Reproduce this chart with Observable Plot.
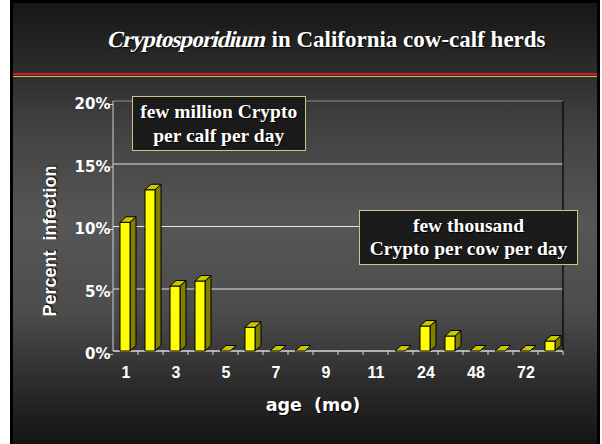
<!DOCTYPE html>
<html>
<head>
<meta charset="utf-8">
<script src="https://cdn.jsdelivr.net/npm/d3@7"></script>
<script src="https://cdn.jsdelivr.net/npm/@observablehq/plot@0.6"></script>
<style>
  html, body { margin: 0; padding: 0; background: #ffffff; }
  #page { position: relative; width: 602px; height: 444px; overflow: hidden; }
  #slide {
    position: absolute; left: 10px; top: 0; width: 590px; height: 444px; box-sizing: border-box;
    border-left: 3px solid #000; border-top: 3px solid #000; border-right: 3px solid #000;
    background: linear-gradient(to bottom, #161616 0%, #2c2c2c 15%, #444444 30%, #565656 50%, #4c4c4c 70%, #2e2e2e 85%, #141414 100%);
  }
  #title {
    position: absolute; left: 0; top: 28px; width: 602px; padding-left: 108px; box-sizing: border-box;
    font-family: "Liberation Serif", "Times New Roman", serif; font-size: 23px; line-height: 1; color: #fff;
    text-shadow: 1px 1px 1px #000; white-space: nowrap;
  }
  #title .it { display: inline-block; font-family: "Liberation Serif", "DejaVu Serif", serif; font-weight: bold;
    font-style: normal; letter-spacing: -0.9px; transform: skewX(-14deg); }
  #title b { font-weight: bold; font-family: "Liberation Serif", "Times New Roman", serif; }
  .rule { position: absolute; left: 13px; width: 584px; }
  #red { top: 73px; height: 2px; background: #e0102c; }
  #yel { top: 76px; height: 1px; background: #c8c83c; }
  #chart { position: absolute; left: 0; top: 0; }
  .box {
    position: absolute; box-sizing: border-box; background: #1b1b1b; border: 1.5px solid #c8c882;
    color: #fff; font-family: "Liberation Serif", "Times New Roman", serif; font-weight: bold; font-size: 19.5px;
    text-align: center; text-shadow: 1px 1px 1px #000; white-space: nowrap;
  }
  #box1 { left: 131.7px; top: 96px; width: 174px; height: 55px; line-height: 24px; padding-top: 3.2px; }
  #box2 { left: 359.3px; top: 210px; width: 218.4px; height: 55px; line-height: 23px; padding-top: 2.7px; }
  .atitle { position: absolute; color: #fff; font-weight: bold; white-space: pre; text-shadow: 1px 1px 1px #000; }
  #ytitle { left: 49.7px; top: 240.8px; transform: translate(-50%, -50%) rotate(-90deg);
    font-family: "Liberation Sans", Arial, sans-serif; font-size: 18px; line-height: 1; }
  #xtitle { left: 313px; top: 406px; transform: translate(-50%, -50%);
    font-family: "DejaVu Sans", sans-serif; font-size: 17.5px; line-height: 1; }
</style>
</head>
<body>
<div id="page">
  <div id="slide"></div>
  <div id="title"><span class="it">Cryptosporidium</span> <b>in California cow-calf herds</b></div>
  <div class="rule" id="red"></div>
  <div class="rule" id="yel"></div>
  <div id="chart"></div>
  <div class="box" id="box1">few million Crypto<br>per calf per day</div>
  <div class="box" id="box2">few thousand<br>Crypto per cow per day</div>
  <div class="atitle" id="ytitle">Percent  infection</div>
  <div class="atitle" id="xtitle">age  (mo)</div>
</div>
<script>
// ---- data ----
const ages = ["1","2","3","4","5","6","7","8","9","10","11","12","24","36","48","60","72","84"];
const infection = [10.3, 12.9, 5.2, 5.6, 0, 1.9, 0, 0, null, null, null, 0, 2.0, 1.2, 0, 0, 0, 0.8];
const xTickLabels = ["1","3","5","7","9","11","24","48","72"];
const yTicks = [0, 5, 10, 15, 20];
const gridValues = [5, 10, 15];

const data = ages.map((age, i) => ({age, value: infection[i]})).filter(d => d.value != null);

// walls, axis line and boundary ticks of the 3D chart, drawn from the scales
function walls(index, scales, values, dim) {
  const g = d3.create("svg:g");
  const x0 = scales.x(ages[0]);
  const bw = (dim.width - dim.marginLeft - dim.marginRight) / ages.length;
  const x1 = scales.x(ages[ages.length - 1]) + bw;
  const yb = scales.y(0), yt = scales.y(20);
  g.append("line").attr("x1", x0).attr("x2", x1).attr("y1", yt).attr("y2", yt).attr("stroke", "#8c8c8c");
  g.append("line").attr("x1", x1).attr("x2", x1).attr("y1", yt).attr("y2", yb).attr("stroke", "#000").attr("stroke-width", 1.2);
  g.append("line").attr("x1", x0).attr("x2", x0).attr("y1", yt).attr("y2", yb).attr("stroke", "#cfcfcf");
  g.append("line").attr("x1", x0).attr("x2", x1).attr("y1", yb).attr("y2", yb).attr("stroke", "#d8d8d8").attr("stroke-width", 1.5);
  ages.forEach((a, i) => {
    if (i === 0) return;
    const xx = scales.x(a);
    g.append("line").attr("x1", xx).attr("x2", xx).attr("y1", yb).attr("y2", yb + 4).attr("stroke", "#d8d8d8");
  });
  g.append("line").attr("x1", x1).attr("x2", x1).attr("y1", yb).attr("y2", yb + 4).attr("stroke", "#d8d8d8");
  return g.node();
}

// 3D bars: front, side and top faces positioned with the x band scale and y scale
function bars3d(index, scales, values, dim) {
  const g = d3.create("svg:g").attr("stroke", "#000").attr("stroke-width", 1).attr("stroke-linejoin", "round");
  const bw = (dim.width - dim.marginLeft - dim.marginRight) / ages.length;
  const inset = 0.28 * bw, w = 0.4 * bw, dx = 0.24 * bw, dy = 5.5;
  for (const i of index) {
    const d = data[i];
    const xl = scales.x(d.age) + inset, xr = xl + w;
    const y0 = scales.y(0), yv = scales.y(d.value);
    if (yv < y0 - 0.5) {
      g.append("path").attr("fill", "#808000")
        .attr("d", `M${xr},${yv}L${xr + dx},${yv - dy}L${xr + dx},${y0 - dy}L${xr},${y0}Z`);
      g.append("rect").attr("fill", "#ffff00").attr("x", xl).attr("y", yv).attr("width", w).attr("height", y0 - yv);
    }
    g.append("path").attr("fill", "#c8c800")
      .attr("d", `M${xl},${yv}L${xl + dx},${yv - dy}L${xr + dx},${yv - dy}L${xr},${yv}Z`);
  }
  return g.node();
}

const chart = Plot.plot({
  width: 602,
  height: 444,
  marginLeft: 113,
  marginRight: 39,
  marginTop: 101,
  marginBottom: 93,
  style: {background: "transparent", color: "#fff", overflow: "visible"},
  x: {type: "band", domain: ages, padding: 0, axis: null},
  y: {domain: [0, 20], axis: null},
  marks: [
    Plot.ruleY(gridValues, {stroke: "#e4e4e4", strokeWidth: 1.2}),
    walls,
    Plot.barY(data, {x: "age", y: "value", render: bars3d}),
    Plot.axisY(yTicks, {
      anchor: "left", tickSize: 3, tickPadding: 0, stroke: "#d0d0d0",
      tickFormat: d => d + "%", fill: "#fff", fontSize: 15, fontWeight: "bold",
      fontFamily: "DejaVu Sans, sans-serif", dy: 3, label: null
    }),
    Plot.axisX(xTickLabels, {
      anchor: "bottom", tickSize: 0, tickPadding: 15, fill: "#fff", fontSize: 16,
      fontWeight: "bold", fontFamily: "Liberation Sans, Arial, sans-serif", label: null
    })
  ]
});
document.getElementById("chart").appendChild(chart);
</script>
</body>
</html>
